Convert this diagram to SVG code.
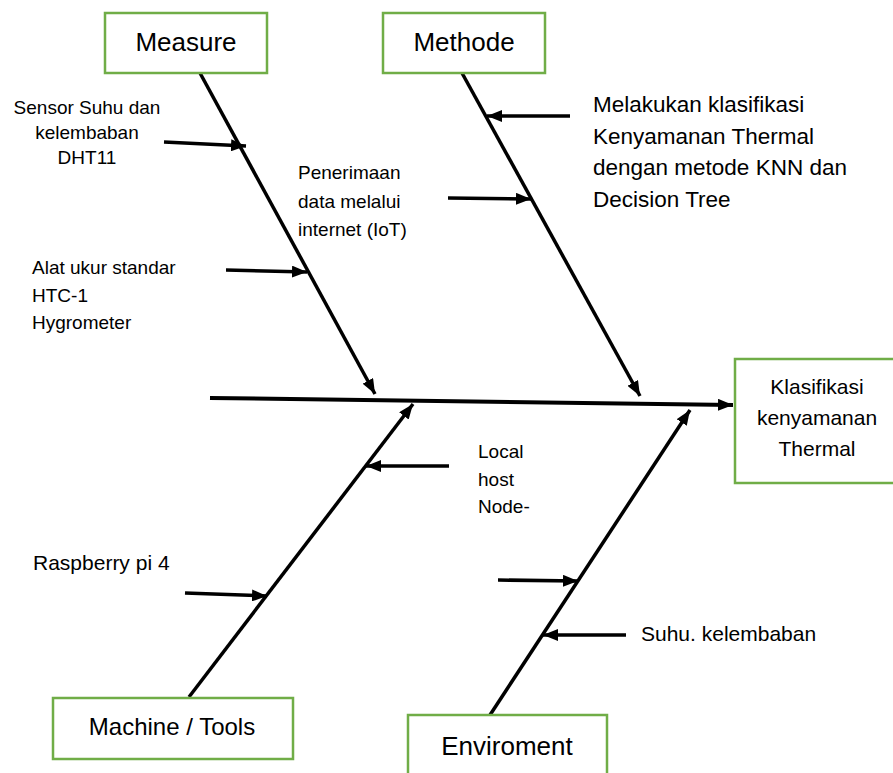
<svg xmlns="http://www.w3.org/2000/svg" width="893" height="773" viewBox="0 0 893 773">
<style>
.box{fill:#fff;stroke:#70AD47;stroke-width:2.5}
.ln{stroke:#000;stroke-width:3.5;fill:none}
.ar{stroke:#000;stroke-width:3.5;fill:none;marker-end:url(#ah)}
text{font-family:"Liberation Sans",Arial,sans-serif;fill:#000}
.t{font-size:19px}
.m{font-size:21px}
.g{font-size:22.5px}
.b{font-size:26px;text-anchor:middle}
.c{text-anchor:middle}
</style>
<defs>
<marker id="ah" markerUnits="userSpaceOnUse" markerWidth="16" markerHeight="12" refX="15" refY="6" orient="auto">
<path d="M0,0 L15,6 L0,12 z" fill="#000"/>
</marker>
</defs>
<rect width="893" height="773" fill="#fff"/>
<g id="connectors">
<line class="ar" x1="210" y1="398" x2="733" y2="405" style="stroke-width:4"/>
<line class="ar" x1="200" y1="73" x2="375" y2="394"/>
<line class="ar" x1="462" y1="73" x2="640" y2="396"/>
<line class="ar" x1="189" y1="697" x2="413" y2="404"/>
<line class="ar" x1="490" y1="715" x2="690" y2="410"/>
<line class="ar" x1="164" y1="142" x2="246" y2="146"/>
<line class="ar" x1="226" y1="270" x2="307" y2="272"/>
<line class="ar" x1="570" y1="116" x2="487" y2="116"/>
<line class="ar" x1="448" y1="198" x2="531" y2="199"/>
<line class="ar" x1="449" y1="466" x2="366" y2="466"/>
<line class="ar" x1="185" y1="593" x2="267" y2="596"/>
<line class="ar" x1="498" y1="580" x2="578" y2="581"/>
<line class="ar" x1="626" y1="635" x2="543" y2="635"/>
</g>
<g id="measure">
<rect class="box" x="105" y="13" width="162" height="60"/>
<text class="b" x="186" y="51">Measure</text>
</g>
<g id="methode">
<rect class="box" x="383" y="13" width="162" height="60"/>
<text class="b" x="464" y="51">Methode</text>
</g>
<g id="result">
<rect class="box" x="735" y="359" width="170" height="124"/>
<text class="m c" x="817" y="394">Klasifikasi</text>
<text class="m c" x="817" y="425">kenyamanan</text>
<text class="m c" x="817" y="456">Thermal</text>
</g>
<g id="machine">
<rect class="box" x="53" y="698" width="240" height="61"/>
<text class="c" x="172" y="735" style="font-size:24px">Machine / Tools</text>
</g>
<g id="enviroment">
<rect class="box" x="408" y="715" width="199" height="70"/>
<text class="b" x="507" y="755">Enviroment</text>
</g>
<g id="labels">
<text class="t c" x="87" y="114">Sensor Suhu dan</text>
<text class="t c" x="87" y="139">kelembaban</text>
<text class="t c" x="87" y="164">DHT11</text>
<text class="t" x="298" y="179">Penerimaan</text>
<text class="t" x="298" y="208">data melalui</text>
<text class="t" x="298" y="236">internet (IoT)</text>
<text class="t" x="32" y="274">Alat ukur standar</text>
<text class="t" x="32" y="302">HTC-1</text>
<text class="t" x="32" y="329">Hygrometer</text>
<text class="g" x="593" y="112">Melakukan klasifikasi</text>
<text class="g" x="593" y="144">Kenyamanan Thermal</text>
<text class="g" x="593" y="175">dengan metode KNN dan</text>
<text class="g" x="593" y="207">Decision Tree</text>
<text class="t" x="478" y="458">Local</text>
<text class="t" x="478" y="486">host</text>
<text class="t" x="478" y="513">Node-</text>
<text class="t" x="33" y="570" style="font-size:21px">Raspberry pi 4</text>
<text class="t" x="641" y="641" style="font-size:21px">Suhu. kelembaban</text>
</g>
</svg>
